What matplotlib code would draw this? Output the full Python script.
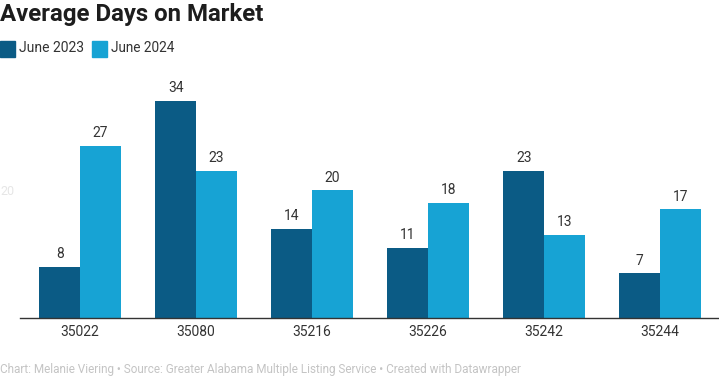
import numpy as np
import matplotlib.pyplot as plt

plt.rcParams['font.family'] = ['Roboto', 'DejaVu Sans']

zips = ['35022', '35080', '35216', '35226', '35242', '35244']
june_2023 = [8, 34, 14, 11, 23, 7]
june_2024 = [27, 23, 20, 18, 13, 17]

dark = '#0b5b85'
light = '#17a3d4'

fig = plt.figure(figsize=(7.19, 3.80), dpi=100)
W, H = 719, 380
# axes placed in pixel terms: baseline at y=318, spans x 20..719
ax = fig.add_axes([20 / W, 62 / H, 699 / W, 228 / H])

x = np.arange(len(zips))
bw = 0.35
b1 = ax.bar(x - bw / 2, june_2023, bw, color=dark, zorder=2)
b2 = ax.bar(x + bw / 2, june_2024, bw, color=light, zorder=2)

for bars, vals in [(b1, june_2023), (b2, june_2024)]:
    for b, v in zip(bars, vals):
        ax.text(b.get_x() + b.get_width() / 2, v + 0.9, str(v), ha='center', va='bottom',
                fontsize=10, color='#333333')

ax.set_xlim(-60 / 116, (719 - 80) / 116)
ax.set_ylim(0, 35.7)
ax.set_xticks(x)
ax.set_xticklabels(zips, fontsize=10, color='#333333')
ax.tick_params(axis='x', length=0, pad=5)
ax.set_yticks([20])
ax.set_yticklabels(['20'], fontsize=9, color='#e6e6e6')
ax.tick_params(axis='y', length=0, pad=4)
for s in ['top', 'right', 'left']:
    ax.spines[s].set_visible(False)
ax.spines['bottom'].set_color('#333333')
ax.spines['bottom'].set_linewidth(1.0)

fig.text(0.0, 1 - 15 / H, 'Average Days on Market', fontsize=17.3, fontweight='bold',
         color='#1d1d1d', va='center', ha='left')

# legend as patches + text
fig.patches.append(plt.Rectangle((0 / W, 1 - 57 / H), 15 / W, 16 / H, transform=fig.transFigure,
                                 color=dark, figure=fig))
fig.text(19 / W, 1 - 48 / H, 'June 2023', fontsize=10, color='#333333', va='center')
fig.patches.append(plt.Rectangle((92 / W, 1 - 57 / H), 15 / W, 16 / H, transform=fig.transFigure,
                                 color=light, figure=fig))
fig.text(111 / W, 1 - 48 / H, 'June 2024', fontsize=9.8, color='#333333', va='center')

fig.text(0.0, 1 - 370 / H,
         'Chart: Melanie Viering • Source: Greater Alabama Multiple Listing Service • Created with Datawrapper',
         fontsize=8.5, color='#c4c4c4', va='center', ha='left')

fig.savefig('out.png', dpi=100)
